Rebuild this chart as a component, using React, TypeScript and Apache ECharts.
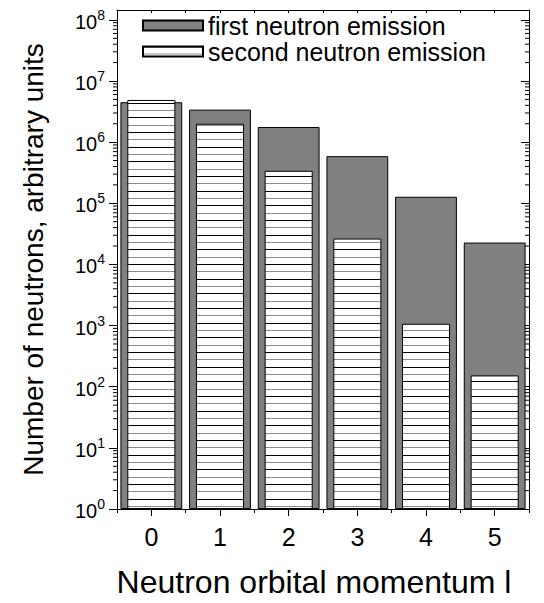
import React, { useEffect, useRef } from "react";
import * as echarts from "echarts";

const categories = ["0", "1", "2", "3", "4", "5"];
const firstEmission = [4.5e6, 3.4e6, 1.77e6, 5.9e5, 1.28e5, 2.28e4];
const secondEmission = [4.9e6, 2.0e6, 3.4e5, 2.65e4, 1.07e3, 153];
const decades = [1, 10, 100, 1e3, 1e4, 1e5, 1e6, 1e7];
const minorMultipliers = [2, 3, 4, 5, 6, 7, 8, 9];
const seriesNames = ["first neutron emission", "second neutron emission"];

const FONT = "'Liberation Sans', Arial, Helvetica, sans-serif";

function makeHatch() {
  const c = document.createElement("canvas");
  c.width = 8;
  c.height = 44;
  const ctx = c.getContext("2d")!;
  ctx.fillStyle = "#ffffff";
  ctx.fillRect(0, 0, 8, 44);
  const rows = [0, 7, 15, 22, 29, 37];
  rows.forEach((y, i) => {
    ctx.fillStyle = i % 2 === 0 ? "#000000" : "#8c8c8c";
    ctx.fillRect(0, y, 8, 1);
  });
  return c;
}

export default function App() {
  const ref = useRef<HTMLDivElement>(null);
  useEffect(() => {
    if (!ref.current) return;
    const chart = echarts.init(ref.current, undefined, { renderer: "svg" });
    const hatch = makeHatch();
    const minorTicks: number[][] = [];
    decades.forEach((d) => minorMultipliers.forEach((m) => minorTicks.push([0, d * m])));

    const option: any = {
      animation: false,
      backgroundColor: "#ffffff",
      textStyle: { fontFamily: FONT, color: "#000" },
      grid: { left: 117, right: 15, top: 10, bottom: 86, containLabel: false },
      legend: {
        orient: "vertical",
        left: 142,
        top: 13,
        padding: 0,
        itemWidth: 60,
        itemHeight: 10,
        itemGap: 1,
        itemTextGap: 7,
        icon: "rect",
        data: seriesNames,
        textStyle: { fontFamily: FONT, fontSize: 25, color: "#000", lineHeight: 25 },
        selectedMode: false,
      },
      xAxis: [
        {
          type: "category",
          data: categories,
          position: "bottom",
          axisLine: { show: true, lineStyle: { color: "#000", width: 1 } },
          axisTick: { show: true, alignWithLabel: true, length: 7, lineStyle: { color: "#000" } },
          axisLabel: { fontFamily: FONT, fontSize: 25, color: "#000", margin: 15 },
          splitLine: { show: false },
          name: "Neutron orbital momentum l",
          nameLocation: "middle",
          nameGap: 57,
          nameTextStyle: { fontFamily: FONT, fontSize: 32, color: "#000", padding: [0, 18, 0, 0] },
        },
        {
          type: "category",
          data: categories,
          position: "bottom",
          axisLine: { show: false },
          axisTick: { show: true, alignWithLabel: false, length: 4, lineStyle: { color: "#000" } },
          axisLabel: { show: false },
          splitLine: { show: false },
        },
        {
          type: "category",
          data: categories,
          position: "top",
          axisLine: { show: true, lineStyle: { color: "#000", width: 1 } },
          axisTick: { show: true, inside: true, alignWithLabel: false, length: 3, lineStyle: { color: "#000" } },
          axisLabel: { show: false },
          splitLine: { show: false },
        },
        {
          type: "category",
          data: categories,
          position: "top",
          axisLine: { show: false },
          axisTick: { show: true, inside: true, alignWithLabel: true, length: 3, lineStyle: { color: "#000" } },
          axisLabel: { show: false },
          splitLine: { show: false },
        },
      ],
      yAxis: [
        {
          type: "log",
          logBase: 10,
          min: 1,
          max: 1.45e8,
          position: "left",
          axisLine: { show: true, lineStyle: { color: "#000", width: 1 } },
          axisTick: { show: true, length: 8, lineStyle: { color: "#000" } },
          splitLine: { show: false },
          axisLabel: {
            showMaxLabel: false,
            margin: 12,
            formatter: (v: number) => `{b|10}{s|${Math.round(Math.log10(v))}}`,
            rich: {
              b: { fontFamily: FONT, fontSize: 20, color: "#000", lineHeight: 24, verticalAlign: "bottom" },
              s: { fontFamily: FONT, fontSize: 14, color: "#000", lineHeight: 14, verticalAlign: "top" },
            },
          },
          name: "Number of neutrons, arbitrary units",
          nameLocation: "middle",
          nameGap: 70,
          nameTextStyle: { fontFamily: FONT, fontSize: 28, color: "#000" },
        },
        {
          type: "log",
          logBase: 10,
          min: 1,
          max: 1.45e8,
          position: "right",
          axisLine: { show: true, lineStyle: { color: "#000", width: 1 } },
          axisTick: { show: true, inside: true, length: 8, lineStyle: { color: "#000" } },
          axisLabel: { show: false },
          splitLine: { show: false },
        },
      ],
      series: [
        {
          name: seriesNames[0],
          type: "bar",
          xAxisIndex: 0,
          yAxisIndex: 0,
          barWidth: "90%",
          data: firstEmission,
          itemStyle: { color: "#808080", borderColor: "#000", borderWidth: 1 },
          z: 2,
        },
        {
          name: seriesNames[1],
          type: "bar",
          xAxisIndex: 1,
          yAxisIndex: 0,
          barWidth: "70%",
          data: secondEmission,
          itemStyle: {
            color: { image: hatch, repeat: "repeat", imageWidth: 8, imageHeight: 44 },
            borderColor: "#000",
            borderWidth: 1,
          },
          z: 3,
        },
        {
          type: "custom",
          xAxisIndex: 0,
          yAxisIndex: 0,
          silent: true,
          clip: false,
          z: 5,
          data: minorTicks,
          renderItem: (params: any, api: any) => {
            const pt = api.coord([0, api.value(1)]);
            const cs = params.coordSys;
            const y = pt[1];
            return {
              type: "group",
              children: [
                {
                  type: "line",
                  shape: { x1: cs.x - 4, y1: y, x2: cs.x, y2: y },
                  style: { stroke: "#000", lineWidth: 1 },
                },
                {
                  type: "line",
                  shape: { x1: cs.x + cs.width - 4, y1: y, x2: cs.x + cs.width, y2: y },
                  style: { stroke: "#000", lineWidth: 1 },
                },
              ],
            };
          },
        },
      ],
    };
    chart.setOption(option);
    return () => chart.dispose();
  }, []);
  return (
    <div
      ref={ref}
      style={{ position: "fixed", left: 0, top: 0, width: 544, height: 603, background: "#fff" }}
    />
  );
}
